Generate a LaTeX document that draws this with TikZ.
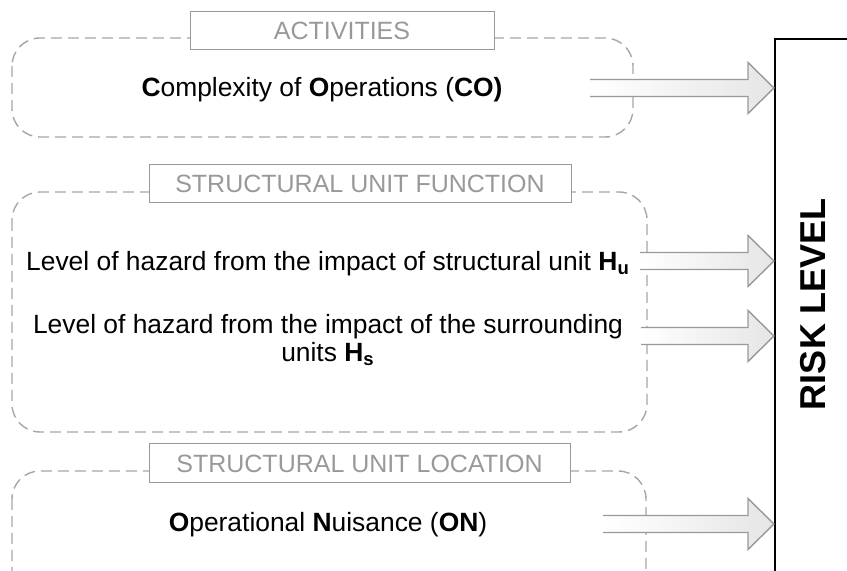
\documentclass[tikz,border=0pt]{standalone}
\usepackage{fontspec}
\setmainfont{Liberation Sans}
\usepackage{tikz}
\usetikzlibrary{calc}

% fat gray input arrow: #1 start coordinate, #2 tip coordinate
\newcommand{\fatarrow}[2]{%
  \shade[fatarr] ($(#1)+(0,8.5)$) -- ($(#2)+(-26,8.5)$) -- ($(#2)+(-26,25.5)$)
    -- (#2) -- ($(#2)+(-26,-25.5)$) -- ($(#2)+(-26,-8.5)$) -- ($(#1)+(0,-8.5)$);
}

\begin{document}
\begin{tikzpicture}[
  x=0.5pt, y=-0.5pt,
  grp/.style={draw=gray!70, line width=0.7pt, dash pattern=on 5.5pt off 3pt, rounded corners=14pt},
  grptitle/.style={rectangle, draw=gray!80, fill=white, text=gray!80, line width=0.5pt, inner sep=0pt, font=\fontsize{12.5}{14}\selectfont},
  factor/.style={inner sep=0pt, align=center, font=\fontsize{13.2}{14}\selectfont},
  riskbox/.style={rectangle, draw=black, line width=1pt, minimum width=80pt, minimum height=320pt},
  fatarr/.style={draw=gray!80, line width=0.7pt, left color=white, right color=gray!20},
]
\useasboundingbox (0,0) rectangle (847,571);
\clip (0,0) rectangle (847,571);

% groups
\draw[grp] (12,38) rectangle (633,137);
\draw[grp] (12,192) rectangle (647,432);
\draw[grp] (12,471) rectangle (646,620);

\node[grptitle, minimum width=152pt, minimum height=19pt] (acttitle) at (342,31) {ACTIVITIES};
\node[grptitle, minimum width=211pt, minimum height=19pt] (funtitle) at (360,184) {STRUCTURAL UNIT FUNCTION};
\node[grptitle, minimum width=210.5pt, minimum height=19.5pt] (loctitle) at (359.5,463.5) {STRUCTURAL UNIT LOCATION};

% factors
\node[factor, anchor=base] (co) at (322,97) {\textbf{C}omplexity of \textbf{O}perations (\textbf{CO)}};
\node[factor, anchor=base] (hu) at (328,271) {Level of hazard from the impact of structural unit \textbf{H\textsubscript{u}}};
\node[factor, anchor=base] (hs) at (328,362) {Level of hazard from the impact of the surrounding\\units \textbf{H\textsubscript{s}}};
\node[factor, anchor=base] (on) at (328,532) {\textbf{O}perational \textbf{N}uisance (\textbf{ON})};

% risk level
\node[riskbox, anchor=north west] (risk) at (774,38) {};
\node[rotate=90, font=\fontsize{18}{20}\selectfont\bfseries] (risklbl) at (813,304) {RISK LEVEL};

% arrows
\coordinate (s1) at (590,88);
\coordinate (s2) at (640,261);
\coordinate (s3) at (641,336);
\coordinate (s4) at (603,524);
\fatarrow{s1}{s1 -| risk.west}
\fatarrow{s2}{s2 -| risk.west}
\fatarrow{s3}{s3 -| risk.west}
\fatarrow{s4}{s4 -| risk.west}
\end{tikzpicture}
\end{document}
